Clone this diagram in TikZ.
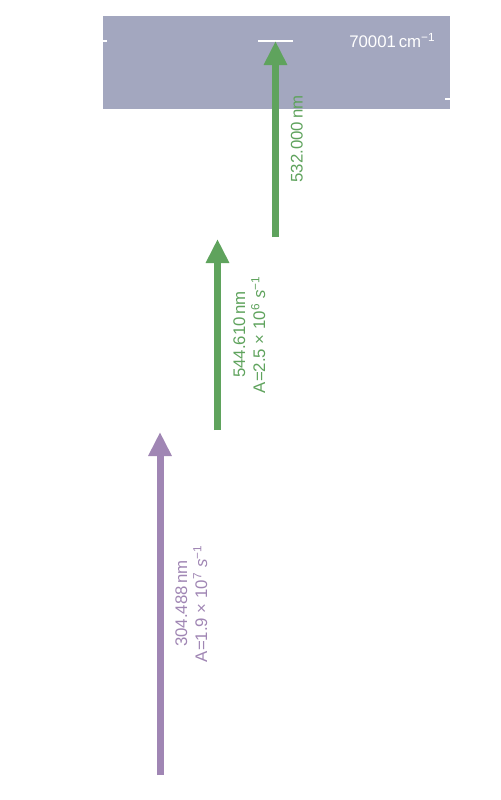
\documentclass[tikz,border=0pt]{standalone}
\usepackage{fontspec}
\setmainfont{Liberation Sans}
\usetikzlibrary{arrows.meta,calc,positioning}
\definecolor{bandgray}{RGB}{163,167,191}
\definecolor{transgreen}{RGB}{95,163,93}
\definecolor{transpurple}{RGB}{160,134,180}

\begin{document}
\begin{tikzpicture}
[x=0.5pt,y=-0.5pt,
transition/.style={
	line width=3.5pt,
        -{Triangle[width=11pt,length=12pt]},
    },
translabel/.style={
	rotate=90,
        anchor=north,
        inner sep=0pt,
        align=center,
        font=\fontsize{8.4}{10}\selectfont,
    },]
\fill[white] (0,0) rectangle (500,800);
% draw the band of the upper level
\fill[bandgray] (103,16) rectangle (450,109);
\draw[white, line width=0.6pt] (103,41) -- (107,41);
\draw[white, line width=0.6pt] (445,99) -- (450,99);

% levels
\coordinate (ground) at (160,775);
\coordinate (lvlA) at (160,432);
\coordinate (lvlAstart) at (217.5,430);
\coordinate (lvlB) at (217.5,239);
\coordinate (lvlBstart) at (275.5,237);
\coordinate (lvlC) at (275.5,41);
\coordinate (lvlCleft) at (258,41);
\coordinate (lvlCright) at (293,41);
\draw[white, line width=1pt] (lvlCleft) -- (lvlCright);
\node[text=white, anchor=base east, inner sep=0pt, font=\fontsize{8.4}{10}\selectfont] (toplabel) at (436,47) {70001\,cm\textsuperscript{−1}};

%draw transitions
\draw[transition, transpurple] (ground) -- (lvlA);
\draw[transition, transgreen] (lvlAstart) -- (lvlB);
\draw[transition, transgreen] (lvlBstart) -- (lvlC);

% labels
\node[translabel, text=transpurple] (lab304) at ($(ground)!0.5!(lvlA)+(15,0)$) {304.488\,nm\\A=1.9 × 10\textsuperscript{7} \textit{s}\textsuperscript{−1}};
\node[translabel, text=transgreen] (lab544) at ($(lvlAstart)!0.5!(lvlB)+(15.5,0)$) {544.610\,nm\\A=2.5 × 10\textsuperscript{6} \textit{s}\textsuperscript{−1}};
\node[translabel, text=transgreen] (lab532) at ($(lvlBstart)!0.5!(lvlC)+(15,0)$) {532.000\,nm};
\end{tikzpicture}
\end{document}
